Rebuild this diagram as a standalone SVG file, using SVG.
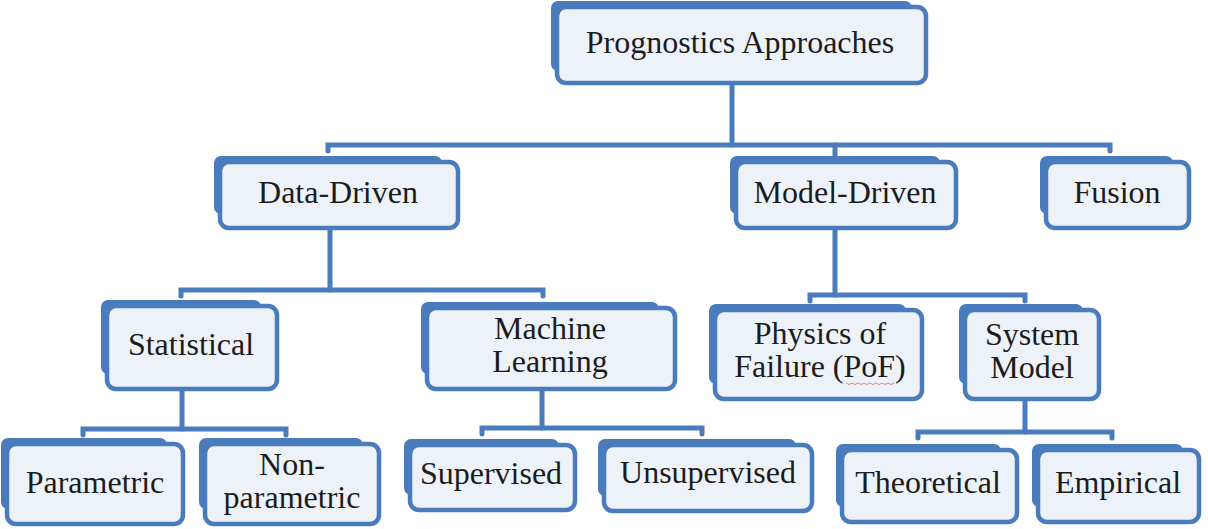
<svg xmlns="http://www.w3.org/2000/svg" width="1208" height="529" viewBox="0 0 1208 529">
<style>
.bg{fill:#ffffff}
.back{fill:#4a7bbd}
.front{fill:#edf1f8;stroke:#4a7bbd;stroke-width:4.5}
.conn{fill:none;stroke:#4a7bbd;stroke-width:5;stroke-linecap:round;stroke-linejoin:miter}
text{font-family:"Liberation Serif","Times New Roman",serif;font-size:32px;fill:#1c1c1c;text-anchor:middle}
</style>
<rect class="bg" x="0" y="0" width="1208" height="529"/>
<g id="connectors">
  <path class="conn" d="M732,85 V145"/>
  <path class="conn" d="M328,151 V145 H1110 V151"/>
  <path class="conn" d="M835,145 V156"/>
  <path class="conn" d="M330,229 V290"/>
  <path class="conn" d="M181,296 V290 H543 V296"/>
  <path class="conn" d="M835,229 V295"/>
  <path class="conn" d="M810,301 V295 H1025 V301"/>
  <path class="conn" d="M182,390 V429"/>
  <path class="conn" d="M83,435 V429 H286 V435"/>
  <path class="conn" d="M542,390 V428"/>
  <path class="conn" d="M482,434 V428 H702 V434"/>
  <path class="conn" d="M1025,400 V432"/>
  <path class="conn" d="M918,438 V432 H1112 V438"/>
</g>
<g id="prognostics">
  <rect class="back" x="551" y="1" width="361" height="70" rx="7"/>
  <rect class="front" x="557" y="7" width="369" height="76" rx="9"/>
  <text x="740" y="53">Prognostics Approaches</text>
</g>
<g id="data-driven">
  <rect class="back" x="214" y="156" width="228" height="58" rx="7"/>
  <rect class="front" x="220" y="162" width="238" height="66" rx="9"/>
  <text x="338" y="203">Data-Driven</text>
</g>
<g id="model-driven">
  <rect class="back" x="730" y="156" width="210" height="58" rx="7"/>
  <rect class="front" x="736" y="162" width="220" height="66" rx="9"/>
  <text x="845" y="203">Model-Driven</text>
</g>
<g id="fusion">
  <rect class="back" x="1040" y="156" width="133" height="58" rx="7"/>
  <rect class="front" x="1046" y="162" width="143" height="66" rx="9"/>
  <text x="1117" y="203">Fusion</text>
</g>
<g id="statistical">
  <rect class="back" x="101" y="300" width="160" height="74" rx="7"/>
  <rect class="front" x="107" y="306" width="170" height="83" rx="9"/>
  <text x="191" y="355">Statistical</text>
</g>
<g id="machine-learning">
  <rect class="back" x="421" y="302" width="238" height="72" rx="7"/>
  <rect class="front" x="427" y="308" width="248" height="81" rx="9"/>
  <text x="550" y="339">Machine</text>
  <text x="550" y="372">Learning</text>
</g>
<g id="physics-of-failure">
  <rect class="back" x="709" y="304" width="197" height="80" rx="7"/>
  <rect class="front" x="715" y="310" width="207" height="89" rx="9"/>
  <text x="820" y="344">Physics of</text>
  <text x="820" y="377">Failure (PoF)</text>
  <path d="M846,383 l3,1.5 l3,-1.5 l3,1.5 l3,-1.5 l3,1.5 l3,-1.5 l3,1.5 l3,-1.5 l3,1.5 l3,-1.5 l3,1.5 l3,-1.5 l3,1.5 l3,-1.5 l3,1.5 l3,-1.5" fill="none" stroke="#d9534f" stroke-width="1" opacity="0.7"/>
</g>
<g id="system-model">
  <rect class="back" x="959" y="304" width="124" height="80" rx="7"/>
  <rect class="front" x="965" y="310" width="134" height="89" rx="9"/>
  <text x="1032" y="345">System</text>
  <text x="1032" y="378">Model</text>
</g>
<g id="parametric">
  <rect class="back" x="1" y="438" width="166" height="71" rx="7"/>
  <rect class="front" x="7" y="444" width="176" height="80" rx="9"/>
  <text x="95" y="493">Parametric</text>
</g>
<g id="non-parametric">
  <rect class="back" x="199" y="438" width="164" height="71" rx="7"/>
  <rect class="front" x="205" y="444" width="174" height="80" rx="9"/>
  <text x="292" y="475">Non-</text>
  <text x="292" y="508">parametric</text>
</g>
<g id="supervised">
  <rect class="back" x="404" y="439" width="155" height="56" rx="7"/>
  <rect class="front" x="410" y="445" width="165" height="65" rx="9"/>
  <text x="491" y="484">Supervised</text>
</g>
<g id="unsupervised">
  <rect class="back" x="598" y="439" width="198" height="57" rx="7"/>
  <rect class="front" x="604" y="445" width="208" height="66" rx="9"/>
  <text x="708" y="483">Unsupervised</text>
</g>
<g id="theoretical">
  <rect class="back" x="836" y="444" width="165" height="63" rx="7"/>
  <rect class="front" x="842" y="450" width="175" height="72" rx="9"/>
  <text x="928" y="493">Theoretical</text>
</g>
<g id="empirical">
  <rect class="back" x="1032" y="444" width="151" height="63" rx="7"/>
  <rect class="front" x="1038" y="450" width="161" height="72" rx="9"/>
  <text x="1118" y="493">Empirical</text>
</g>
</svg>
